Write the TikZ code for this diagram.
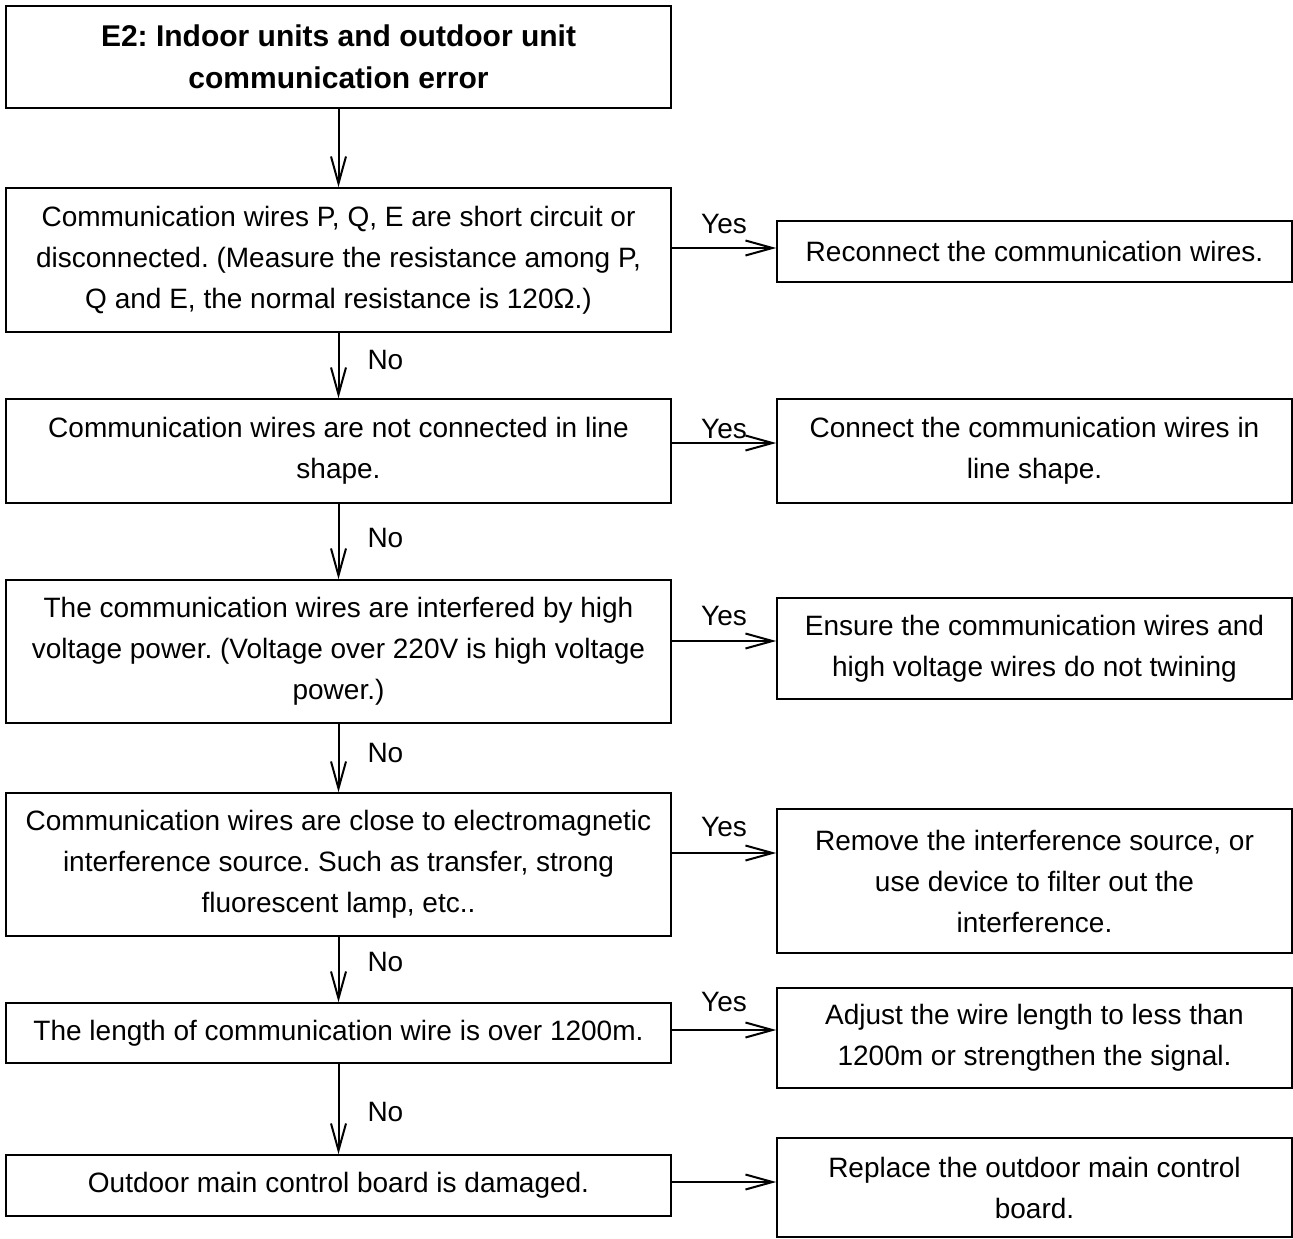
\documentclass[tikz,border=0pt]{standalone}
\usepackage{fontspec}
\setmainfont{Liberation Sans}
\usetikzlibrary{arrows.meta}
\frenchspacing
\begin{document}
\begin{tikzpicture}[x=1pt,y=-1pt,
  box/.style={draw, line width=1.6pt, inner sep=0pt, align=center, font=\fontsize{28}{41}\selectfont},
  lbox/.style={box, minimum width=665pt},
  rbox/.style={box, minimum width=515pt},
  arr/.style={line width=2pt, -{Straight Barb[length=27pt,width=15pt,line width=2pt]}},
  lab/.style={font=\fontsize{28}{34}\selectfont, inner sep=0pt}]
\useasboundingbox (0,0) rectangle (1293,1239);
% left column
\node[lbox, minimum height=102pt, font=\fontsize{30}{42}\selectfont\bfseries] (T) at (338.5,57) {E2: Indoor units and outdoor unit\\communication error};
\node[lbox, minimum height=144pt] (B2) at (338.5,260) {Communication wires P, Q, E are short circuit or\\disconnected. (Measure the resistance among P,\\Q and E, the normal resistance is 120Ω.)};
\node[lbox, minimum height=104pt] (B3) at (338.5,451) {Communication wires are not connected in line\\shape.};
\node[lbox, minimum height=143pt] (B4) at (338.5,651.5) {The communication wires are interfered by high\\voltage power. (Voltage over 220V is high voltage\\power.)};
\node[lbox, minimum height=143pt] (B5) at (338.5,864.5) {Communication wires are close to electromagnetic\\interference source. Such as transfer, strong\\fluorescent lamp, etc..};
\node[lbox, minimum height=60pt] (B6) at (338.5,1033) {The length of communication wire is over 1200m.};
\node[lbox, minimum height=61pt] (B7) at (338.5,1185.5) {Outdoor main control board is damaged.};
% right column
\node[rbox, minimum height=61pt] (R1) at (1034.5,251.5) {Reconnect the communication wires.};
\node[rbox, minimum height=104pt] (R2) at (1034.5,451) {Connect the communication wires in\\line shape.};
\node[rbox, minimum height=101pt] (R3) at (1034.5,648.5) {Ensure the communication wires and\\high voltage wires do not twining};
\node[rbox, minimum height=144pt] (R4) at (1034.5,881) {Remove the interference source, or\\use device to filter out the\\interference.};
\node[rbox, minimum height=100pt] (R5) at (1034.5,1038) {Adjust the wire length to less than\\1200m or strengthen the signal.};
\node[rbox, minimum height=99pt] (R6) at (1034.5,1187.5) {Replace the outdoor main control\\board.};
% vertical arrows
\draw[arr] (T.south) -- (B2.north);
\draw[arr] (B2.south) -- node[lab, right=28pt, pos=0.42] (n1) {No} (B3.north);
\draw[arr] (B3.south) -- node[lab, right=28pt, pos=0.45] (n2) {No} (B4.north);
\draw[arr] (B4.south) -- node[lab, right=28pt, pos=0.43] (n3) {No} (B5.north);
\draw[arr] (B5.south) -- node[lab, right=28pt, pos=0.39] (n4) {No} (B6.north);
\draw[arr] (B6.south) -- node[lab, right=28pt, pos=0.53] (n5) {No} (B7.north);
% horizontal arrows
\draw[arr] (B2.east |- 0,248) -- node[lab, above=13pt] (y1) {Yes} (R1.west |- 0,248);
\draw[arr] (B3.east |- 0,443) -- node[lab, above=3pt] (y2) {Yes} (R2.west |- 0,443);
\draw[arr] (B4.east |- 0,641) -- node[lab, above=14pt] (y3) {Yes} (R3.west |- 0,641);
\draw[arr] (B5.east |- 0,853) -- node[lab, above=15pt] (y4) {Yes} (R4.west |- 0,853);
\draw[arr] (B6.east |- 0,1030) -- node[lab, above=17pt] (y5) {Yes} (R5.west |- 0,1030);
\draw[arr] (B7.east |- 0,1182) -- (R6.west |- 0,1182);
\end{tikzpicture}
\end{document}
